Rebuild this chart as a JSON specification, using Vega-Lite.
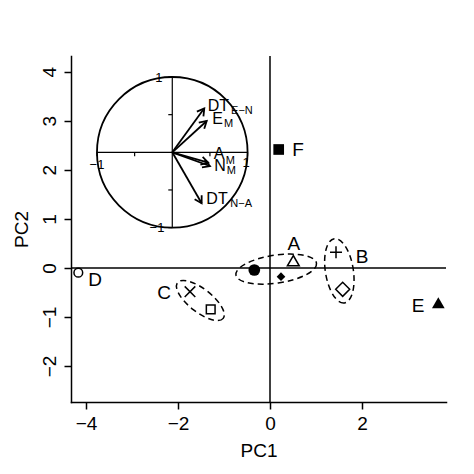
{
  "$schema": "https://vega.github.io/schema/vega-lite/v6.json",
  "autosize": {"type": "none"},
  "padding": {"left": 71, "top": 56, "right": 28, "bottom": 72},
  "width": 375,
  "height": 346,
  "background": "white",
  "config": {
    "view": {"stroke": null},
    "font": "Liberation Sans",
    "axis": {
      "grid": false, "domainColor": "black", "domainWidth": 1.5, "domainCap": "square",
      "tickColor": "black", "tickWidth": 1.5, "tickSize": 7,
      "labelColor": "black", "labelFontSize": 19, "labelPadding": 5, "labelOverlap": false, "labelFlush": false,
      "titleColor": "black", "titleFontSize": 19, "titleFontWeight": "normal"
    },
    "axisX": {"titlePadding": 8},
    "axisY": {"labelAngle": -90, "labelAlign": "center", "labelBaseline": "bottom", "titlePadding": 9}
  },
  "datasets": {
    "scores": [
      {"id": "A1", "grp": "A", "x": -0.341, "y": -0.043},
      {"id": "A2", "grp": "A", "x": 0.507, "y": 0.147},
      {"id": "A3", "grp": "A", "x": 0.239, "y": -0.179},
      {"id": "B1", "grp": "B", "x": 1.435, "y": 0.318},
      {"id": "B2", "grp": "B", "x": 1.58, "y": -0.437},
      {"id": "C1", "grp": "C", "x": -1.739, "y": -0.485},
      {"id": "C2", "grp": "C", "x": -1.289, "y": -0.844},
      {"id": "D", "grp": "D", "x": -4.167, "y": -0.098},
      {"id": "E", "grp": "E", "x": 3.659, "y": -0.709},
      {"id": "F", "grp": "F", "x": 0.189, "y": 2.414}
    ],
    "labels": [
      {"t": "A", "x": 0.517, "y": 0.483},
      {"t": "B", "x": 2.004, "y": 0.228},
      {"t": "C", "x": -2.3, "y": -0.518},
      {"t": "D", "x": -3.8, "y": -0.247},
      {"t": "E", "x": 3.217, "y": -0.767},
      {"t": "F", "x": 0.609, "y": 2.4}
    ],
    "loadings": [
      {"v": "DT E-N", "lx": 0.425, "ly": 0.584},
      {"v": "E M", "lx": 0.457, "ly": 0.416},
      {"v": "A M", "lx": 0.478, "ly": -0.138},
      {"v": "N M", "lx": 0.5, "ly": -0.182},
      {"v": "DT N-A", "lx": 0.39, "ly": -0.677}
    ],
    "inlab": [
      {"t": "DT", "x": 0.611, "y": 0.618, "k": "main"},
      {"t": "E−N", "x": 0.925, "y": 0.545, "k": "sub"},
      {"t": "E", "x": 0.6, "y": 0.445, "k": "main"},
      {"t": "M", "x": 0.747, "y": 0.37, "k": "sub"},
      {"t": "A", "x": 0.62, "y": -0.023, "k": "main"},
      {"t": "M", "x": 0.77, "y": -0.116, "k": "sub"},
      {"t": "N", "x": 0.633, "y": -0.182, "k": "main"},
      {"t": "M", "x": 0.783, "y": -0.25, "k": "sub"},
      {"t": "DT", "x": 0.594, "y": -0.62, "k": "main"},
      {"t": "N−A", "x": 0.915, "y": -0.69, "k": "sub"}
    ],
    "inaxis": [
      {"x": -1, "x2": 1, "y": 0, "y2": 0},
      {"x": 0, "x2": 0, "y": -1, "y2": 1}
    ],
    "inticks": [
      {"x": -1, "y": 0, "d": "h"},
      {"x": -0.5, "y": 0, "d": "h"},
      {"x": 0.5, "y": 0, "d": "h"},
      {"x": 1, "y": 0, "d": "h"},
      {"x": 0, "y": -1, "d": "v"},
      {"x": 0, "y": -0.5, "d": "v"},
      {"x": 0, "y": 0.5, "d": "v"},
      {"x": 0, "y": 1, "d": "v"}
    ],
    "inticklab": [
      {"t": "−1", "x": -1.0, "y": -0.17},
      {"t": "1", "x": 0.98, "y": -0.14},
      {"t": "1", "x": -0.177, "y": 0.987},
      {"t": "−1", "x": -0.203, "y": -1.007}
    ]
  },
  "layer": [
    {
      "layer": [
        {
          "data": {"values": [{"v": 0}]},
          "mark": {"type": "rule", "color": "black", "strokeWidth": 1.5},
          "encoding": {
            "y": {"datum": 0, "type": "quantitative", "scale": {"domain": [-2.734, 4.32], "nice": false, "zero": false}, "axis": {"title": "PC2", "values": [-2, -1, 0, 1, 2, 3, 4]}}
          }
        },
        {
          "data": {"values": [{"v": 0}]},
          "mark": {"type": "rule", "color": "black", "strokeWidth": 1.5},
          "encoding": {
            "x": {"datum": 0, "type": "quantitative", "scale": {"domain": [-4.326, 3.826], "nice": false, "zero": false}, "axis": {"title": "PC1", "values": [-4, -2, 0, 2]}}
          }
        },
        {
          "data": {"name": "scores"},
          "transform": [
            {"filter": "datum.grp === 'A'"},
            {"aggregate": [{"op": "mean", "field": "x", "as": "x"}, {"op": "mean", "field": "y", "as": "y"}], "groupby": ["grp"]}
          ],
          "mark": {"type": "point", "filled": false, "color": "black", "strokeWidth": 1.5, "strokeDash": [6, 4],
            "shape": "M1,0C1,0.19,0.552,0.344,0,0.344C-0.552,0.344,-1,0.19,-1,0C-1,-0.19,-0.552,-0.344,0,-0.344C0.552,-0.344,1,-0.19,1,0Z",
            "size": 6626, "angle": -8.3, "opacity": 1},
          "encoding": {
            "x": {"field": "x", "type": "quantitative", "scale": {"domain": [-4.326, 3.826], "nice": false, "zero": false}, "axis": {"title": "PC1", "values": [-4, -2, 0, 2]}},
            "y": {"field": "y", "type": "quantitative", "scale": {"domain": [-2.734, 4.32], "nice": false, "zero": false}, "axis": {"title": "PC2", "values": [-2, -1, 0, 1, 2, 3, 4]}}
          }
        },
        {
          "data": {"name": "scores"},
          "transform": [
            {"filter": "datum.grp === 'B'"},
            {"aggregate": [{"op": "mean", "field": "x", "as": "x"}, {"op": "mean", "field": "y", "as": "y"}], "groupby": ["grp"]}
          ],
          "mark": {"type": "point", "filled": false, "color": "black", "strokeWidth": 1.5, "strokeDash": [6, 4],
            "shape": "M1,0C1,0.2375,0.552,0.43,0,0.43C-0.552,0.43,-1,0.2375,-1,0C-1,-0.2375,-0.552,-0.43,0,-0.43C0.552,-0.43,1,-0.2375,1,0Z",
            "size": 4225, "angle": 81, "opacity": 1},
          "encoding": {
            "x": {"field": "x", "type": "quantitative", "scale": {"domain": [-4.326, 3.826], "nice": false, "zero": false}, "axis": {"title": "PC1", "values": [-4, -2, 0, 2]}},
            "y": {"field": "y", "type": "quantitative", "scale": {"domain": [-2.734, 4.32], "nice": false, "zero": false}, "axis": {"title": "PC2", "values": [-2, -1, 0, 1, 2, 3, 4]}}
          }
        },
        {
          "data": {"name": "scores"},
          "transform": [
            {"filter": "datum.grp === 'C'"},
            {"aggregate": [{"op": "mean", "field": "x", "as": "x"}, {"op": "mean", "field": "y", "as": "y"}], "groupby": ["grp"]}
          ],
          "mark": {"type": "point", "filled": false, "color": "black", "strokeWidth": 1.5, "strokeDash": [6, 4],
            "shape": "M1,0C1,0.221,0.552,0.4,0,0.4C-0.552,0.4,-1,0.221,-1,0C-1,-0.221,-0.552,-0.4,0,-0.4C0.552,-0.4,1,-0.221,1,0Z",
            "size": 3364, "angle": 38, "opacity": 1},
          "encoding": {
            "x": {"field": "x", "type": "quantitative", "scale": {"domain": [-4.326, 3.826], "nice": false, "zero": false}, "axis": {"title": "PC1", "values": [-4, -2, 0, 2]}},
            "y": {"field": "y", "type": "quantitative", "scale": {"domain": [-2.734, 4.32], "nice": false, "zero": false}, "axis": {"title": "PC2", "values": [-2, -1, 0, 1, 2, 3, 4]}}
          }
        },
        {
          "data": {"name": "scores"},
          "transform": [{"filter": {"field": "id", "oneOf": ["A1", "A3", "E", "F"]}}],
          "mark": {"type": "point", "filled": true, "color": "black", "opacity": 1},
          "encoding": {
            "x": {"field": "x", "type": "quantitative", "scale": {"domain": [-4.326, 3.826], "nice": false, "zero": false}, "axis": {"title": "PC1", "values": [-4, -2, 0, 2]}},
            "y": {"field": "y", "type": "quantitative", "scale": {"domain": [-2.734, 4.32], "nice": false, "zero": false}, "axis": {"title": "PC2", "values": [-2, -1, 0, 1, 2, 3, 4]}},
            "shape": {"field": "id", "type": "nominal", "legend": null,
              "scale": {"domain": ["A1", "A2", "A3", "B1", "B2", "C1", "C2", "D", "E", "F"],
                "range": ["circle", "triangle-up", "diamond", "M-1,0L1,0M0,-1L0,1", "diamond", "M-1,-1L1,1M-1,1L1,-1", "square", "circle", "triangle-up", "square"]}},
            "size": {"field": "id", "type": "nominal", "legend": null,
              "scale": {"type": "ordinal", "domain": ["A1", "A2", "A3", "B1", "B2", "C1", "C2", "D", "E", "F"],
                "range": [137, 140, 75, 144, 196, 112, 76, 76, 161, 114]}}
          }
        },
        {
          "data": {"name": "scores"},
          "transform": [{"filter": {"field": "id", "oneOf": ["A2", "B1", "B2", "C1", "C2", "D"]}}],
          "mark": {"type": "point", "filled": false, "color": "black", "strokeWidth": 1.5, "opacity": 1},
          "encoding": {
            "x": {"field": "x", "type": "quantitative", "scale": {"domain": [-4.326, 3.826], "nice": false, "zero": false}, "axis": {"title": "PC1", "values": [-4, -2, 0, 2]}},
            "y": {"field": "y", "type": "quantitative", "scale": {"domain": [-2.734, 4.32], "nice": false, "zero": false}, "axis": {"title": "PC2", "values": [-2, -1, 0, 1, 2, 3, 4]}},
            "shape": {"field": "id", "type": "nominal", "legend": null,
              "scale": {"domain": ["A1", "A2", "A3", "B1", "B2", "C1", "C2", "D", "E", "F"],
                "range": ["circle", "triangle-up", "diamond", "M-1,0L1,0M0,-1L0,1", "diamond", "M-1,-1L1,1M-1,1L1,-1", "square", "circle", "triangle-up", "square"]}},
            "size": {"field": "id", "type": "nominal", "legend": null,
              "scale": {"type": "ordinal", "domain": ["A1", "A2", "A3", "B1", "B2", "C1", "C2", "D", "E", "F"],
                "range": [137, 140, 75, 144, 196, 112, 76, 76, 161, 114]}}
          }
        },
        {
          "data": {"name": "labels"},
          "mark": {"type": "text", "fontSize": 19, "color": "black", "align": "center", "baseline": "middle"},
          "encoding": {
            "x": {"field": "x", "type": "quantitative", "scale": {"domain": [-4.326, 3.826], "nice": false, "zero": false}, "axis": {"title": "PC1", "values": [-4, -2, 0, 2]}},
            "y": {"field": "y", "type": "quantitative", "scale": {"domain": [-2.734, 4.32], "nice": false, "zero": false}, "axis": {"title": "PC2", "values": [-2, -1, 0, 1, 2, 3, 4]}},
            "text": {"field": "t"}
          }
        }
      ]
    },
    {
      "layer": [
        {
          "data": {"values": [{"v": 0}]},
          "mark": {"type": "point", "shape": "circle", "size": 22680, "filled": false, "color": "black", "strokeWidth": 1.8, "opacity": 1},
          "encoding": {
            "x": {"datum": 0, "type": "quantitative", "scale": {"domain": [-1.345, 3.635], "nice": false, "zero": false}, "axis": null},
            "y": {"datum": 0, "type": "quantitative", "scale": {"domain": [-3.316, 1.279], "nice": false, "zero": false}, "axis": null}
          }
        },
        {
          "data": {"name": "inaxis"},
          "mark": {"type": "rule", "color": "black", "strokeWidth": 1.2},
          "encoding": {
            "x": {"field": "x", "type": "quantitative", "scale": {"domain": [-1.345, 3.635], "nice": false, "zero": false}, "axis": null},
            "x2": {"field": "x2"},
            "y": {"field": "y", "type": "quantitative", "scale": {"domain": [-3.316, 1.279], "nice": false, "zero": false}, "axis": null},
            "y2": {"field": "y2"}
          }
        },
        {
          "data": {"name": "inticks"},
          "transform": [{"filter": "datum.d === 'h'"}],
          "mark": {"type": "point", "filled": false, "color": "black", "strokeWidth": 1.2, "size": 64, "opacity": 1, "shape": "M0,0L0,1"},
          "encoding": {
            "x": {"field": "x", "type": "quantitative", "scale": {"domain": [-1.345, 3.635], "nice": false, "zero": false}, "axis": null},
            "y": {"field": "y", "type": "quantitative", "scale": {"domain": [-3.316, 1.279], "nice": false, "zero": false}, "axis": null}
          }
        },
        {
          "data": {"name": "inticks"},
          "transform": [{"filter": "datum.d === 'v'"}],
          "mark": {"type": "point", "filled": false, "color": "black", "strokeWidth": 1.2, "size": 64, "opacity": 1, "shape": "M0,0L-1,0"},
          "encoding": {
            "x": {"field": "x", "type": "quantitative", "scale": {"domain": [-1.345, 3.635], "nice": false, "zero": false}, "axis": null},
            "y": {"field": "y", "type": "quantitative", "scale": {"domain": [-3.316, 1.279], "nice": false, "zero": false}, "axis": null}
          }
        },
        {
          "data": {"name": "inticklab"},
          "mark": {"type": "text", "fontSize": 13, "color": "black", "align": "center", "baseline": "middle"},
          "encoding": {
            "x": {"field": "x", "type": "quantitative", "scale": {"domain": [-1.345, 3.635], "nice": false, "zero": false}, "axis": null},
            "y": {"field": "y", "type": "quantitative", "scale": {"domain": [-3.316, 1.279], "nice": false, "zero": false}, "axis": null},
            "text": {"field": "t"}
          }
        },
        {
          "data": {"name": "loadings"},
          "mark": {"type": "rule", "color": "black", "strokeWidth": 1.8},
          "encoding": {
            "x": {"field": "lx", "type": "quantitative", "scale": {"domain": [-1.345, 3.635], "nice": false, "zero": false}, "axis": null},
            "x2": {"datum": 0},
            "y": {"field": "ly", "type": "quantitative", "scale": {"domain": [-3.316, 1.279], "nice": false, "zero": false}, "axis": null},
            "y2": {"datum": 0}
          }
        },
        {
          "data": {"name": "loadings"},
          "transform": [{"calculate": "atan2(datum.lx, datum.ly) * 180 / PI", "as": "ang"}],
          "mark": {"type": "point", "filled": false, "color": "black", "strokeWidth": 1.8, "size": 263, "opacity": 1,
            "shape": "M-0.5,0.866L0,0L0.5,0.866"},
          "encoding": {
            "x": {"field": "lx", "type": "quantitative", "scale": {"domain": [-1.345, 3.635], "nice": false, "zero": false}, "axis": null},
            "y": {"field": "ly", "type": "quantitative", "scale": {"domain": [-3.316, 1.279], "nice": false, "zero": false}, "axis": null},
            "angle": {"field": "ang", "type": "quantitative", "scale": null}
          }
        },
        {
          "data": {"name": "inlab"},
          "transform": [{"filter": "datum.k === 'main'"}],
          "mark": {"type": "text", "fontSize": 16, "color": "black", "align": "center", "baseline": "middle"},
          "encoding": {
            "x": {"field": "x", "type": "quantitative", "scale": {"domain": [-1.345, 3.635], "nice": false, "zero": false}, "axis": null},
            "y": {"field": "y", "type": "quantitative", "scale": {"domain": [-3.316, 1.279], "nice": false, "zero": false}, "axis": null},
            "text": {"field": "t"}
          }
        },
        {
          "data": {"name": "inlab"},
          "transform": [{"filter": "datum.k === 'sub'"}],
          "mark": {"type": "text", "fontSize": 11, "color": "black", "align": "center", "baseline": "middle"},
          "encoding": {
            "x": {"field": "x", "type": "quantitative", "scale": {"domain": [-1.345, 3.635], "nice": false, "zero": false}, "axis": null},
            "y": {"field": "y", "type": "quantitative", "scale": {"domain": [-3.316, 1.279], "nice": false, "zero": false}, "axis": null},
            "text": {"field": "t"}
          }
        }
      ]
    }
  ],
  "resolve": {"scale": {"x": "independent", "y": "independent"}}
}
